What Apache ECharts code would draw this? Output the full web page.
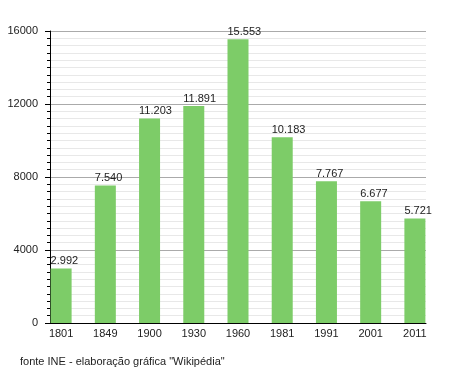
<!DOCTYPE html>
<html><head><meta charset="utf-8">
<script src="https://cdn.jsdelivr.net/npm/echarts@6/dist/echarts.min.js"></script>
<style>html,body{margin:0;padding:0;background:#fff}#c{width:455px;height:373px}</style>
</head><body><div id="c"></div>
<script>
const years = ['1801','1849','1900','1930','1960','1981','1991','2001','2011'];
const population = [2992, 7540, 11203, 11891, 15553, 10183, 7767, 6677, 5721];
const yTicks = {min: 0, max: 16000, interval: 4000};
const footnote = 'fonte INE - elaboração gráfica "Wikipédia"';

const FONT = '"Liberation Sans", Arial, sans-serif';
function fmt(v){ return String(v).replace(/\B(?=(\d{3})+(?!\d))/g, '.'); }

const chart = echarts.init(document.getElementById('c'), null, {renderer:'canvas'});
chart.setOption({
  animation: false,
  backgroundColor: '#fff',
  textStyle: {fontFamily: FONT},
  graphic: [{type:'text', left: 20, top: 356, style:{text: footnote, font: '11px ' + FONT, fill: '#222'}}],
  grid: [
    {left: 50, right: 29, top: 31, bottom: 50},
    {left: 39, right: 18, top: 31, bottom: 50}
  ],
  xAxis: [
    {type:'category', gridIndex:0, data: years, axisLine:{lineStyle:{color:'#000', width:1}},
     axisTick:{show:false}, axisLabel:{show:false}},
    {type:'category', gridIndex:1, data: years, axisLine:{show:false}, axisTick:{show:false},
     axisLabel:{margin:5, color:'#222', fontSize:11, fontFamily: FONT}}
  ],
  yAxis: [
    {type:'value', gridIndex:0, min:yTicks.min, max:yTicks.max, interval:yTicks.interval,
     axisLine:{show:true, lineStyle:{color:'#000', width:1}},
     axisTick:{show:true, length:5, lineStyle:{color:'#000'}},
     minorTick:{show:true, splitNumber:10, length:3, lineStyle:{color:'#000'}},
     splitLine:{show:true, lineStyle:{color:'#aaa', width:1}},
     minorSplitLine:{show:true, lineStyle:{color:'#e8e8e8', width:1}},
     axisLabel:{margin:12, color:'#222', fontSize:11, fontFamily: FONT, formatter: v => String(v)}},
    {type:'value', gridIndex:1, min:yTicks.min, max:yTicks.max, interval:yTicks.interval, show:false,
     splitLine:{show:false}}
  ],
  series: [{
    type:'bar', xAxisIndex:1, yAxisIndex:1, data: population, barWidth: 21,
    itemStyle:{color:'#7dcc68'},
    label:{show:true, position:[0,-2], align:'left', verticalAlign:'bottom',
      color:'#222', fontSize:11, fontFamily: FONT, formatter: p => fmt(p.value)}
  }]
});
</script></body></html>
